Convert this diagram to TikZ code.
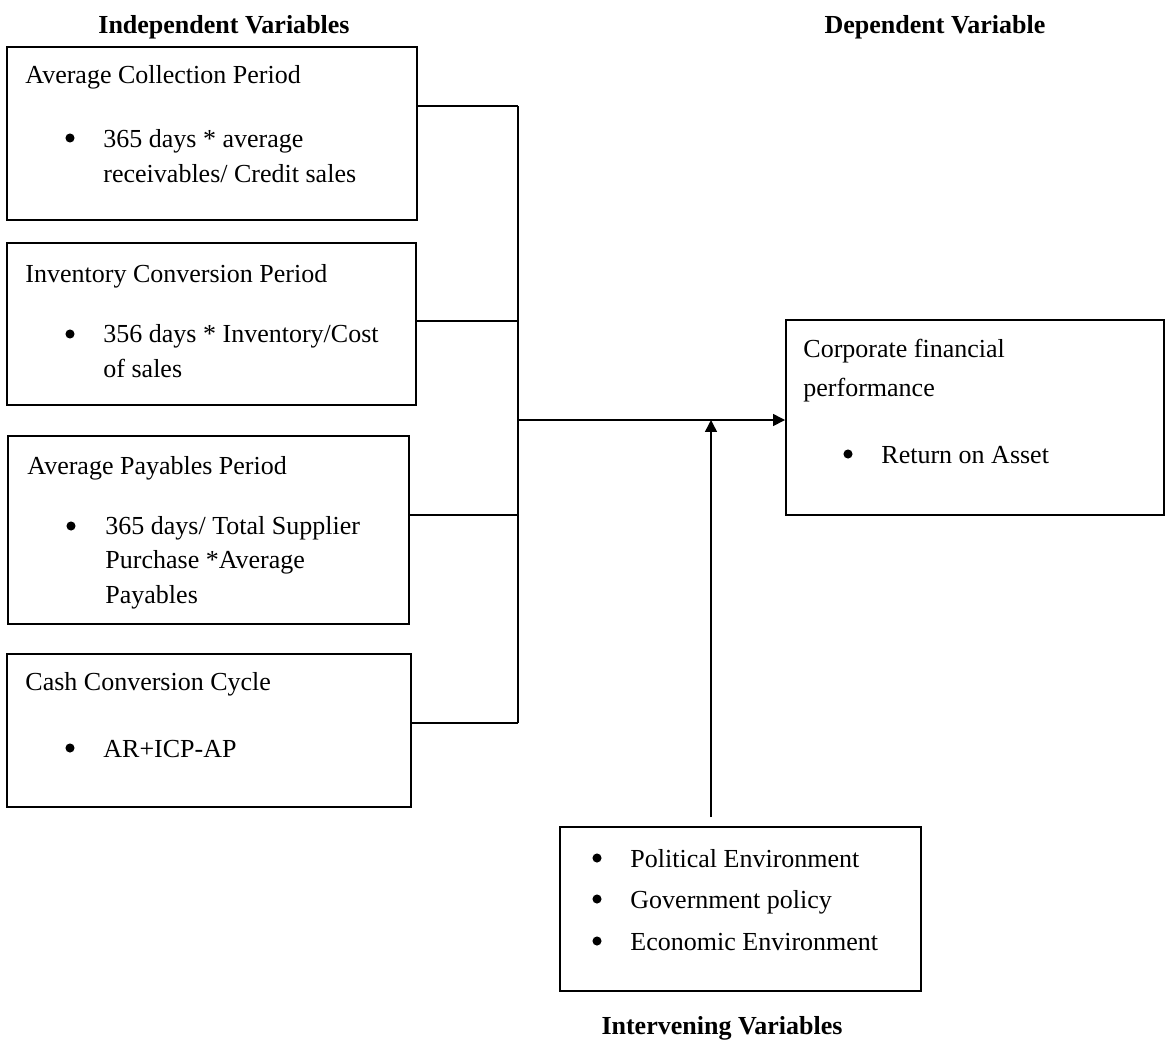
\documentclass[tikz,border=0pt]{standalone}
\usepackage{fontspec}
\setmainfont{Liberation Serif}
\usetikzlibrary{positioning,arrows.meta}

\newcommand{\px}{0.4615pt}
\tikzset{
  box/.style={draw, line width=0.9pt, inner sep=0pt},
  txt/.style={inner sep=0pt, anchor=base west, align=left, font=\fontsize{12}{15.9}\selectfont},
  dot/.style={circle, fill, inner sep=0pt, minimum size=4.2pt},
  head/.style={inner sep=0pt, anchor=base, font=\fontsize{12}{14}\selectfont\bfseries},
  link/.style={line width=0.7pt},
}

\begin{document}
\begin{tikzpicture}[x=\px, y=-\px, >={Triangle[length=5.5pt,width=5.5pt]}]
\useasboundingbox (0,0) rectangle (1166,1040);
%
\node [head] (indep) at (224,33) {Independent Variables};
\node [head] (dep) at (935,33) {Dependent Variable};
\node [head] (interv) at (722,1034) {Intervening Variables};

%
\node [box, minimum width=410*\px, minimum height=173*\px] (acp) at (212,133.5) {};
\node [txt] (acpT) at (25,83) {Average Collection Period};
\node [dot] (acpB) at (70,138) {};
\node [txt, font=\fontsize{12}{16.15}\selectfont] (acpL) at (103,182) {365 days * average\\receivables/ Credit sales};

\node [box, minimum width=409*\px, minimum height=162*\px] (icp) at (211.5,324) {};
\node [txt] (icpT) at (25,282) {Inventory Conversion Period};
\node [dot] (icpB) at (70,334) {};
\node [txt] (icpL) at (103,377) {356 days * Inventory/Cost\\of sales};

\node [box, minimum width=401*\px, minimum height=188*\px] (app) at (208.5,530) {};
\node [txt] (appT) at (27,474) {Average Payables Period};
\node [dot] (appB) at (71,526) {};
\node [txt] (appL) at (105,603) {365 days/ Total Supplier\\Purchase *Average\\Payables};

\node [box, minimum width=404*\px, minimum height=153*\px] (ccc) at (209,730.5) {};
\node [txt] (cccT) at (25,690) {Cash Conversion Cycle};
\node [dot] (cccB) at (70,748) {};
\node [txt] (cccL) at (103,757) {AR+ICP-AP};

%
\node [box, minimum width=378*\px, minimum height=195*\px] (cfp) at (975,417.5) {};
\node [txt, font=\fontsize{12}{18}\selectfont] (cfpT) at (803,396) {Corporate financial\\performance};
\node [dot] (cfpB) at (848,454) {};
\node [txt] (cfpL) at (881,463) {Return on Asset};

%
\node [box, minimum width=361*\px, minimum height=164*\px] (iv) at (740.5,909) {};
\node [dot] (ivB1) at (597,858) {};
\node [txt] (ivL1) at (630,867) {Political Environment};
\node [dot] (ivB2) at (597,899) {};
\node [txt] (ivL2) at (630,908) {Government policy};
\node [dot] (ivB3) at (597,941) {};
\node [txt] (ivL3) at (630,950) {Economic Environment};

%
\coordinate (j1) at (518,106);
\coordinate (j2) at (518,321);
\coordinate (j3) at (518,515);
\coordinate (j4) at (518,723);
\coordinate (jm) at (518,420);
\coordinate (ivtop) at (711,817);

\draw [link] (j1 -| acp.east) -- (j1);
\draw [link] (j2 -| icp.east) -- (j2);
\draw [link] (j3 -| app.east) -- (j3);
\draw [link] (j4 -| ccc.east) -- (j4);
\draw [link] (j1) -- (j4);
\draw [link,->] (jm) -- (jm -| cfp.west);
\draw [link,->] (ivtop) -- (ivtop |- jm);
\end{tikzpicture}
\end{document}
